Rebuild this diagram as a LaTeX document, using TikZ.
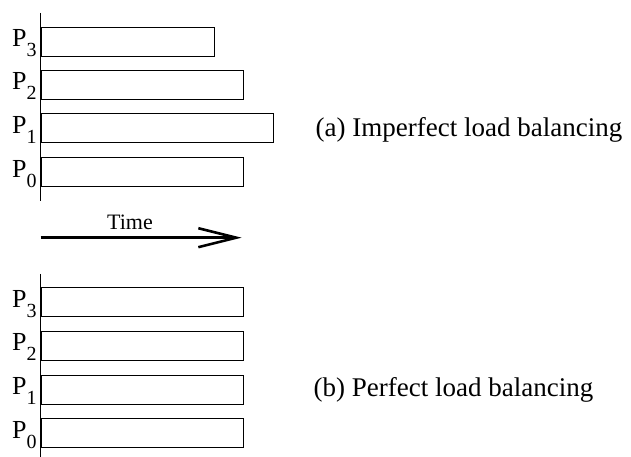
\documentclass[tikz,border=0pt]{standalone}
\usepackage{fontspec}
\setmainfont{Liberation Serif}
\usetikzlibrary{arrows.meta}

% processor label: P with a lowered index
\newcommand{\proclabel}[1]{P\raisebox{-10pt}{\fontsize{20}{20}\selectfont #1}}

\begin{document}
\begin{tikzpicture}[x=1pt,y=1pt,
    bar/.style={draw=black, line width=0.9pt, minimum height=29pt, inner sep=0pt, anchor=south west},
    plabel/.style={anchor=base west, inner sep=0pt, font=\fontsize{26}{26}\selectfont},
    caption/.style={anchor=base west, inner sep=0pt, font=\fontsize{27}{27}\selectfont},
    axis/.style={line width=0.9pt}]
  \useasboundingbox (0,0) rectangle (631,457);

  % (a) imperfect load balancing
  \coordinate (ta) at (40.7,444);
  \coordinate (ba) at (40.7,255.5);
  \draw[axis] (ta) -- (ba);
  \node[bar, minimum width=173.3pt] (a3) at (40.7,400.5) {};
  \node[bar, minimum width=202.6pt] (a2) at (40.7,357.5) {};
  \node[bar, minimum width=232pt]   (a1) at (40.7,313.8) {};
  \node[bar, minimum width=202.6pt] (a0) at (40.7,269.8) {};
  \node[plabel] (la3) at (12,410.3) {\proclabel{3}};
  \node[plabel] (la2) at (12,367.0) {\proclabel{2}};
  \node[plabel] (la1) at (12,323.3) {\proclabel{1}};
  \node[plabel] (la0) at (12,279.3) {\proclabel{0}};
  \node[caption] (capa) at (315.5,320.3) {(a) Imperfect load balancing};

  % time axis
  \coordinate (t0) at (40.7,219.3);
  \coordinate (t1) at (241.7,219.3);
  \draw[line width=2.6pt, -{Straight Barb[length=38pt,width=19pt,line width=2.6pt]}] (t0) -- (t1);
  \node[anchor=base, inner sep=0pt, font=\fontsize{22}{22}\selectfont] (time) at (130,227.3) {Time};

  % (b) perfect load balancing
  \coordinate (tb) at (40.7,183);
  \coordinate (bb) at (40.7,0.3);
  \draw[axis] (tb) -- (bb);
  \node[bar, minimum width=202.6pt] (b3) at (40.7,139.7) {};
  \node[bar, minimum width=202.6pt] (b2) at (40.7,96.3) {};
  \node[bar, minimum width=202.6pt] (b1) at (40.7,52.3) {};
  \node[bar, minimum width=202.6pt] (b0) at (40.7,8.7) {};
  \node[plabel] (lb3) at (12,149.3) {\proclabel{3}};
  \node[plabel] (lb2) at (12,106.0) {\proclabel{2}};
  \node[plabel] (lb1) at (12,62.3) {\proclabel{1}};
  \node[plabel] (lb0) at (12,18.3) {\proclabel{0}};
  \node[caption] (capb) at (313.5,60.3) {(b) Perfect load balancing};
\end{tikzpicture}
\end{document}
